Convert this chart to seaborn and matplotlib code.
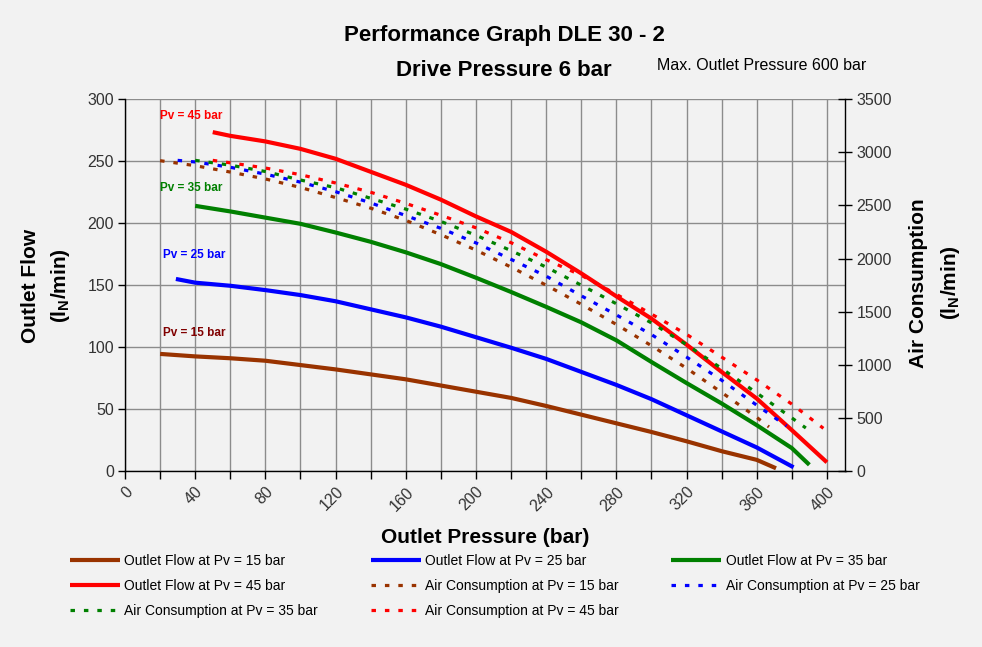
import matplotlib
matplotlib.use("Agg")
import matplotlib.pyplot as plt
from matplotlib.ticker import MultipleLocator
import seaborn as sns

# ---------------- data ----------------
p_flow_15 = [20, 40, 60, 80, 100, 120, 140, 160, 180, 200, 220, 240, 260, 280, 300, 320, 340, 360, 371]
flow_15 = [94.5, 92.5, 91, 89, 85.5, 82, 78, 74, 69, 64, 59, 52.5, 45.5, 38.5, 31.5, 24, 16, 9, 2.2]

p_flow_25 = [29, 40, 60, 80, 100, 120, 140, 160, 180, 200, 220, 240, 260, 280, 300, 320, 340, 360, 381]
flow_25 = [155, 152, 149.5, 146, 142, 137, 130.5, 124, 116.5, 108, 99.5, 90.5, 80, 69.5, 58, 45, 32, 19, 3]

p_flow_35 = [40, 60, 80, 100, 120, 140, 160, 180, 200, 220, 240, 260, 280, 300, 320, 340, 360, 380, 390]
flow_35 = [214, 209.5, 204.5, 199.5, 192.5, 185, 176.5, 167, 156, 144.5, 132.5, 120, 105.5, 88, 71, 54.5, 37, 18.5, 5]

p_flow_45 = [50, 60, 80, 100, 120, 140, 160, 180, 200, 220, 240, 260, 280, 300, 320, 340, 360, 380, 400]
flow_45 = [273.5, 270.5, 266, 260, 252, 241.5, 231, 219, 205.5, 193, 177, 159.5, 141, 123, 102, 80, 58.5, 33, 7]

p_air_15 = [20, 40, 60, 80, 100, 120, 140, 160, 180, 200, 220, 240, 260, 280, 300, 320, 340, 360, 367]
air_15 = [2922, 2875, 2815, 2750, 2670, 2575, 2475, 2360, 2225, 2080, 1920, 1750, 1570, 1380, 1180, 968, 740, 505, 415]

p_air_25 = [30, 40, 60, 80, 100, 120, 140, 160, 180, 200, 220, 240, 260, 280, 300, 320, 340, 360, 377]
air_25 = [2925, 2910, 2860, 2795, 2720, 2630, 2525, 2405, 2285, 2148, 1993, 1835, 1650, 1470, 1285, 1073, 855, 620, 424]

p_air_35 = [40, 60, 80, 100, 120, 140, 160, 180, 200, 220, 240, 260, 280, 300, 320, 340, 360, 380, 388]
air_35 = [2925, 2880, 2820, 2740, 2668, 2568, 2466, 2350, 2220, 2075, 1920, 1750, 1575, 1395, 1190, 965, 735, 500, 405]

p_air_45 = [50, 60, 80, 100, 120, 140, 160, 180, 200, 220, 240, 260, 280, 300, 320, 340, 360, 380, 398]
air_45 = [2925, 2902, 2853, 2790, 2712, 2625, 2520, 2408, 2290, 2150, 1990, 1843, 1664, 1478, 1287, 1073, 858, 630, 402]

flow_labels = ["Outlet Flow at Pv = 15 bar", "Outlet Flow at Pv = 25 bar",
               "Outlet Flow at Pv = 35 bar", "Outlet Flow at Pv = 45 bar"]
air_labels = ["Air Consumption at Pv = 15 bar", "Air Consumption at Pv = 25 bar",
              "Air Consumption at Pv = 35 bar", "Air Consumption at Pv = 45 bar"]
pv_texts = ["Pv = 15 bar", "Pv = 25 bar", "Pv = 35 bar", "Pv = 45 bar"]

colors = ["#993300", "#0000FF", "#008000", "#FF0000"]
pv_text_colors = ["#800000", "#0000FF", "#008000", "#FF0000"]

# ---------------- style ----------------
sns.set_style("white")
BG = "#F2F2F2"
plt.rcParams["font.family"] = ["Liberation Sans", "DejaVu Sans"]
plt.rcParams["text.color"] = "black"
plt.rcParams["axes.labelcolor"] = "black"
plt.rcParams["mathtext.fontset"] = "custom"
plt.rcParams["mathtext.rm"] = "Liberation Sans"
plt.rcParams["mathtext.bf"] = "Liberation Sans:bold"
plt.rcParams["mathtext.it"] = "Liberation Sans:italic"

fig = plt.figure(figsize=(9.82, 6.47), dpi=100, facecolor=BG)
ax = fig.add_axes([125 / 982, 1 - 471 / 647, (845.5 - 125) / 982, (471 - 99.3) / 647])
ax.set_facecolor(BG)
ax2 = ax.twinx()

flow_x = [p_flow_15, p_flow_25, p_flow_35, p_flow_45]
flow_y = [flow_15, flow_25, flow_35, flow_45]
air_x = [p_air_15, p_air_25, p_air_35, p_air_45]
air_y = [air_15, air_25, air_35, air_45]

flow_handles = []
for xs, ys, c, lab in zip(flow_x, flow_y, colors, flow_labels):
    sns.lineplot(x=xs, y=ys, ax=ax, color=c, lw=3.0, solid_capstyle="butt", label=lab, legend=False)
    flow_handles.append(ax.lines[-1])

air_handles = []
for xs, ys, c, lab in zip(air_x, air_y, colors, air_labels):
    sns.lineplot(x=xs, y=ys, ax=ax2, color=c, lw=2.3, linestyle=(0, (1.4, 2.8)),
                 dash_capstyle="butt", label=lab, legend=False)
    air_handles.append(ax2.lines[-1])

# ---------------- axes ----------------
ax.set_xlim(0, 410.6)
ax.set_ylim(0, 300)
ax2.set_ylim(0, 3500)

ax.xaxis.set_major_locator(MultipleLocator(40))
ax.xaxis.set_minor_locator(MultipleLocator(20))
ax.yaxis.set_major_locator(MultipleLocator(50))
ax2.yaxis.set_major_locator(MultipleLocator(500))

ax.grid(True, which="both", axis="x", color="#8C8C8C", lw=1.0)
ax.grid(True, which="major", axis="y", color="#8C8C8C", lw=1.0)
ax2.grid(False)
ax.set_axisbelow(True)

for a in (ax, ax2):
    for s in a.spines.values():
        s.set_color("black")
        s.set_linewidth(1.0)
    a.spines["top"].set_visible(False)
ax.spines["right"].set_visible(False)
ax2.spines["left"].set_visible(False)
ax2.spines["bottom"].set_visible(False)

tick_col = "#333333"
ax.tick_params(axis="y", which="major", direction="out", length=5, width=1, color="black",
               labelsize=11.5, labelcolor=tick_col, pad=3, left=True)
ax.tick_params(axis="x", which="both", direction="out", length=6, width=1, color="black",
               labelsize=11.5, labelcolor=tick_col, bottom=True)
ax2.tick_params(axis="y", direction="inout", length=10, width=1, color="black",
                labelsize=11.5, labelcolor=tick_col, pad=3, right=True)

for lbl in ax.get_xticklabels():
    lbl.set_rotation(45)
    lbl.set_ha("right")
    lbl.set_va("top")
    lbl.set_rotation_mode("anchor")

ax.set_xlabel("Outlet Pressure (bar)", fontsize=15, fontweight="bold", color="black", labelpad=10)
ax.set_ylabel("")
ax2.set_ylabel("")

# Pv annotations
pv_pos = [(21.5, 111.5), (21.5, 174.5), (20, 228.5), (20, 286.5)]
for (px, py), t, c in zip(pv_pos, pv_texts, pv_text_colors):
    ax.text(px, py, t, color=c, fontsize=8.5, fontweight="bold", ha="left", va="center")

# ---------------- titles & axis labels ----------------
fig.text(504 / 982, 1 - 36 / 647, "Performance Graph DLE 30 - 2", fontsize=16, fontweight="bold",
         ha="center", va="center", color="black")
fig.text(504 / 982, 1 - 70 / 647, "Drive Pressure 6 bar", fontsize=16, fontweight="bold",
         ha="center", va="center", color="black")
fig.text(657 / 982, 1 - 66 / 647, "Max. Outlet Pressure 600 bar", fontsize=11.5,
         ha="left", va="center", color="black")

fig.text(30 / 982, 1 - 286 / 647, "Outlet Flow", fontsize=15, fontweight="bold",
         rotation=90, ha="center", va="center", color="black")
fig.text(60 / 982, 1 - 286 / 647, r"(l$_\mathbf{N}$/min)", fontsize=15, fontweight="bold",
         rotation=90, ha="center", va="center", color="black")
fig.text(918 / 982, 1 - 283 / 647, "Air Consumption", fontsize=15, fontweight="bold",
         rotation=90, ha="center", va="center", color="black")
fig.text(950 / 982, 1 - 283 / 647, r"(l$_\mathbf{N}$/min)", fontsize=15, fontweight="bold",
         rotation=90, ha="center", va="center", color="black")

# ---------------- legend (row-wise order in 3 columns) ----------------
handles = flow_handles + air_handles
labels = flow_labels + air_labels
order = [0, 3, 6, 1, 4, 7, 2, 5]
leg = fig.legend([handles[i] for i in order], [labels[i] for i in order],
                 ncol=3, loc="upper left", bbox_to_anchor=(70 / 982, 1 - 554 / 647),
                 frameon=False, fontsize=10, handlelength=3.6, handletextpad=0.3,
                 columnspacing=3.8, labelspacing=0.78, borderpad=0, borderaxespad=0)
for t in leg.get_texts():
    t.set_color("black")

fig.savefig("out.png", dpi=100, facecolor=BG)
